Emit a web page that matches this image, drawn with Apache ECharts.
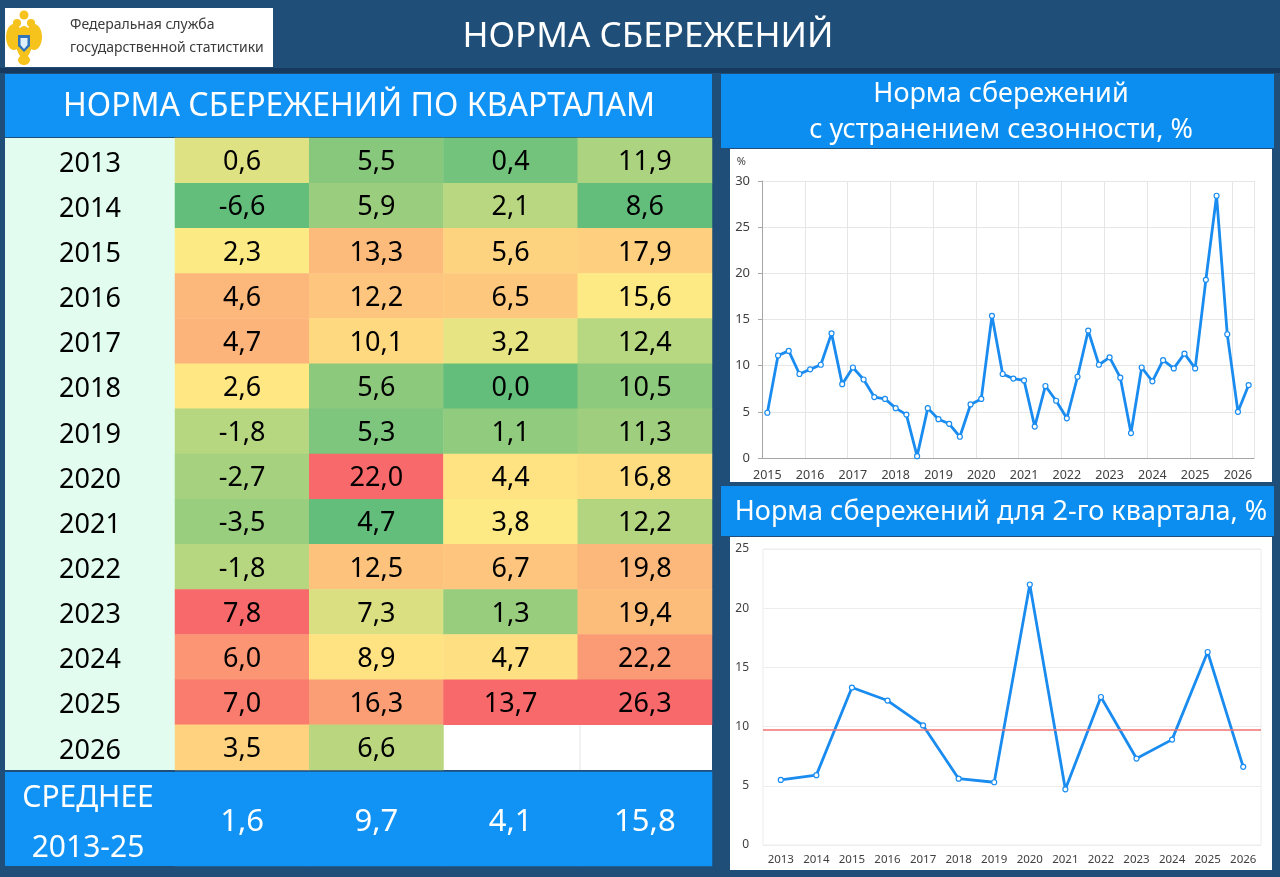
<!DOCTYPE html>
<html>
<head>
<meta charset="utf-8">
<script src="https://cdn.jsdelivr.net/npm/echarts@6/dist/echarts.min.js"></script>
<style>
  html, body { margin: 0; padding: 0; background: #1f4e79; }
  #main { width: 1280px; height: 877px; }
</style>
</head>
<body>
<div id="main"></div>
<script>
// table: savings rate by quarter
const years = ['2013', '2014', '2015', '2016', '2017', '2018', '2019', '2020', '2021', '2022', '2023', '2024', '2025', '2026'];
const quarters = ['I', 'II', 'III', 'IV'];
const q1 = [0.6, -6.6, 2.3, 4.6, 4.7, 2.6, -1.8, -2.7, -3.5, -1.8, 7.8, 6.0, 7.0, 3.5];
const q2 = [5.5, 5.9, 13.3, 12.2, 10.1, 5.6, 5.3, 22.0, 4.7, 12.5, 7.3, 8.9, 16.3, 6.6];
const q3 = [0.4, 2.1, 5.6, 6.5, 3.2, 0.0, 1.1, 4.4, 3.8, 6.7, 1.3, 4.7, 13.7, null];
const q4 = [11.9, 8.6, 17.9, 15.6, 12.4, 10.5, 11.3, 16.8, 12.2, 19.8, 19.4, 22.2, 26.3, null];
const avgLabel = ['СРЕДНЕЕ\n2013-25'];
const avg = [1.6, 9.7, 4.1, 15.8];

// seasonally adjusted, quarterly 2015 Q1 .. 2026 Q2
const saYears = ['2015', '2016', '2017', '2018', '2019', '2020', '2021', '2022', '2023', '2024', '2025', '2026'];
const saValues = [
  4.9, 11.1, 11.6, 9.1,
  9.6, 10.1, 13.5, 8.0,
  9.8, 8.5, 6.6, 6.4,
  5.4, 4.7, 0.2, 5.4,
  4.2, 3.7, 2.3, 5.8,
  6.4, 15.4, 9.1, 8.6,
  8.4, 3.4, 7.8, 6.2,
  4.3, 8.8, 13.8, 10.1,
  10.9, 8.7, 2.7, 9.8,
  8.3, 10.6, 9.7, 11.3,
  9.7, 19.3, 28.4, 13.4,
  5.0, 7.9
];

const FONT = 'Noto Sans';
const BLUE_LINE = '#1a8cf0';
const GREEN = [0x63, 0xBE, 0x7B], YELLOW = [0xFF, 0xEB, 0x84], RED = [0xF8, 0x69, 0x6B];

// category labels for the quarterly axis
const saCats = [];
saYears.forEach(y => quarters.forEach(q => saCats.push(y + ' ' + q)));
saCats.length = saValues.length;

function fmt(v) { return v.toFixed(1).replace('.', ','); }

function mix(a, b, t) {
  const c = a.map((x, i) => Math.round(x + (b[i] - x) * t));
  return 'rgb(' + c.join(',') + ')';
}

// Excel-like 3 colour scale: min green, median yellow, max red
function colourScale(vals) {
  const s = vals.filter(v => v !== null).sort((a, b) => a - b);
  const n = s.length;
  const med = n % 2 ? s[(n - 1) / 2] : (s[n / 2 - 1] + s[n / 2]) / 2;
  const min = s[0], max = s[n - 1];
  const stops = [];
  for (let k = 0; k <= 60; k++) {
    const v = min + (max - min) * k / 60;
    stops.push(v <= med ? mix(GREEN, YELLOW, (v - min) / (med - min)) : mix(YELLOW, RED, (v - med) / (max - med)));
  }
  return { min, max, stops };
}

const columns = [q1, q2, q3, q4];

const heatSeries = columns.map((col, ci) => ({
  type: 'heatmap',
  xAxisIndex: 0,
  yAxisIndex: 0,
  data: col.map((v, ri) => [ci, ri, v]).filter(d => d[2] !== null),
  label: {
    show: true,
    fontFamily: FONT,
    fontSize: 27,
    color: '#000',
    offset: [0, 2],
    formatter: p => fmt(p.value[2])
  },
  itemStyle: { borderWidth: 0 },
  emphasis: { disabled: true }
}));

const visualMaps = columns.map((col, ci) => {
  const sc = colourScale(col);
  return {
    type: 'continuous',
    show: false,
    seriesIndex: ci,
    dimension: 2,
    min: sc.min,
    max: sc.max,
    inRange: { color: sc.stops }
  };
});

const avgSeries = {
  type: 'heatmap',
  xAxisIndex: 1,
  yAxisIndex: 1,
  data: avg.map((v, i) => [i, 0, v]),
  itemStyle: { color: '#1193f5' },
  label: { show: true, fontFamily: FONT, fontSize: 31, color: '#fff', offset: [0, 3], formatter: p => fmt(p.value[2]) },
  emphasis: { disabled: true }
};

const lineStyleCommon = {
  type: 'line',
  lineStyle: { color: BLUE_LINE, width: 2.8 },
  symbol: 'circle',
  symbolSize: 5,
  itemStyle: { color: '#fff', borderColor: BLUE_LINE, borderWidth: 1.2 },
  emphasis: { disabled: true }
};

const axisText = { fontFamily: FONT, fontSize: 12, color: '#404040' };

const chart = echarts.init(document.getElementById('main'));
chart.setOption({
  backgroundColor: '#1f4e79',
  animation: false,
  textStyle: { fontFamily: FONT },
  graphic: [
    // header strip
    { type: 'rect', z: -5, shape: { x: 0, y: 68, width: 1280, height: 5 }, style: { fill: '#17395d' } },
    // logo
    { type: 'rect', z: -5, shape: { x: 5, y: 8, width: 268, height: 59 }, style: { fill: '#ffffff' } },
    { type: 'group', z: -4, children: [
      { type: 'ellipse', shape: { cx: 14, cy: 37, rx: 8, ry: 13 }, style: { fill: '#f6c21c' } },
      { type: 'ellipse', shape: { cx: 34, cy: 37, rx: 8, ry: 13 }, style: { fill: '#f6c21c' } },
      { type: 'circle', shape: { cx: 17, cy: 23, r: 4 }, style: { fill: '#f6c21c' } },
      { type: 'circle', shape: { cx: 31, cy: 23, r: 4 }, style: { fill: '#f6c21c' } },
      { type: 'circle', shape: { cx: 24, cy: 15, r: 4.5 }, style: { fill: '#f6c21c' } },
      { type: 'ellipse', shape: { cx: 24, cy: 42, rx: 8, ry: 16 }, style: { fill: '#f6c21c' } },
      { type: 'ellipse', shape: { cx: 24, cy: 60, rx: 6, ry: 5 }, style: { fill: '#f6c21c' } },
      { type: 'polygon', shape: { points: [[18, 35], [30, 35], [30, 46], [24, 52], [18, 46]] }, style: { fill: '#2f73b8' } },
      { type: 'polygon', shape: { points: [[20.5, 38], [27.5, 38], [27.5, 45], [24, 49], [20.5, 45]] }, style: { fill: '#dfeefb' } }
    ] },
    { type: 'text', z: -4, style: { x: 70, y: 25, text: 'Федеральная служба', fill: '#3a3a3a', font: '14px "Noto Sans"', verticalAlign: 'middle' } },
    { type: 'text', z: -4, style: { x: 70, y: 48, text: 'государственной статистики', fill: '#3a3a3a', font: '14px "Noto Sans"', verticalAlign: 'middle' } },
    // main title
    { type: 'text', z: -4, style: { x: 648, y: 37, text: 'НОРМА СБЕРЕЖЕНИЙ', fill: '#ffffff', font: '35px "Noto Sans"', align: 'center', verticalAlign: 'middle' } },
    // left panel
    { type: 'rect', z: -5, shape: { x: 5, y: 74, width: 707, height: 63 }, style: { fill: '#1193f5' } },
    { type: 'text', z: -4, style: { x: 359, y: 107, text: 'НОРМА СБЕРЕЖЕНИЙ ПО КВАРТАЛАМ', fill: '#ffffff', font: '32px "Noto Sans"', align: 'center', verticalAlign: 'middle' } },
    { type: 'rect', z: -5, shape: { x: 5, y: 138, width: 170, height: 632 }, style: { fill: '#e2fcef' } },
    { type: 'rect', z: -5, shape: { x: 5, y: 772, width: 707, height: 94 }, style: { fill: '#1193f5' } },
    { type: 'line', z: 10, shape: { x1: 580, y1: 725, x2: 580, y2: 770 }, style: { stroke: '#e4e4e4', lineWidth: 1 } },
    // right top panel
    { type: 'rect', z: -5, shape: { x: 721, y: 74, width: 553, height: 74 }, style: { fill: '#0b8ef0' } },
    { type: 'text', z: -4, style: { x: 1001, y: 94, text: 'Норма сбережений', fill: '#ffffff', font: '27px "Noto Sans"', align: 'center', verticalAlign: 'middle' } },
    { type: 'text', z: -4, style: { x: 1001, y: 130, text: 'с устранением сезонности, %', fill: '#ffffff', font: '27px "Noto Sans"', align: 'center', verticalAlign: 'middle' } },
    { type: 'rect', z: -5, shape: { x: 730, y: 149, width: 542, height: 333 }, style: { fill: '#ffffff' } },
    // right bottom panel
    { type: 'rect', z: -5, shape: { x: 721, y: 486, width: 553, height: 50 }, style: { fill: '#0b8ef0' } },
    { type: 'text', z: -4, style: { x: 1001, y: 512, text: 'Норма сбережений для 2-го квартала, %', fill: '#ffffff', font: '27px "Noto Sans"', align: 'center', verticalAlign: 'middle' } },
    { type: 'rect', z: -5, shape: { x: 730, y: 537, width: 542, height: 333 }, style: { fill: '#ffffff' } }
  ],
  visualMap: visualMaps,
  grid: [
    { left: 175, top: 138, width: 537, height: 632, show: true, backgroundColor: '#ffffff', borderWidth: 0 },
    { left: 175, top: 772, width: 537, height: 94 },
    { left: 762, right: 26, top: 181, bottom: 419 },
    { left: 763, right: 19, top: 549, bottom: 32, show: true, borderColor: '#ececec', borderWidth: 1 }
  ],
  xAxis: [
    { type: 'category', gridIndex: 0, data: quarters, show: false },
    { type: 'category', gridIndex: 1, data: quarters, show: false },
    {
      type: 'category', gridIndex: 2, data: saCats, boundaryGap: true,
      axisLine: { lineStyle: { color: '#a6a6a6' } },
      axisTick: { show: false },
      axisLabel: Object.assign({ interval: 3, margin: 11, formatter: v => v.slice(0, 4) }, axisText, { fontSize: 12.5 }),
      splitLine: { show: true, interval: 3, lineStyle: { color: '#e6e6e6' } }
    },
    {
      type: 'category', gridIndex: 3, data: years, boundaryGap: true,
      axisLine: { show: false },
      axisTick: { show: false },
      axisLabel: Object.assign({ interval: 0, margin: 9 }, axisText, { fontSize: 11.5 })
    }
  ],
  yAxis: [
    {
      type: 'category', gridIndex: 0, data: years, inverse: true,
      axisLine: { show: false }, axisTick: { show: false },
      axisLabel: {
        align: 'center', margin: 85, formatter: v => '{y|' + v + '}',
        rich: { y: { fontFamily: FONT, fontSize: 27, color: '#000', padding: [7, 0, 0, 0] } }
      }
    },
    {
      type: 'category', gridIndex: 1, data: avgLabel,
      axisLine: { show: false }, axisTick: { show: false },
      axisLabel: {
        align: 'center', margin: 87,
        formatter: v => v.split('\n').map(s => '{a|' + s + '}').join('\n'),
        rich: { a: { fontFamily: FONT, fontSize: 30, lineHeight: 50, color: '#fff', padding: [8, 0, 0, 0] } }
      }
    },
    {
      type: 'value', gridIndex: 2, min: 0, max: 30, interval: 5,
      name: '%', nameLocation: 'end', nameGap: 14,
      nameTextStyle: { fontFamily: FONT, fontSize: 11, color: '#404040', align: 'right', padding: [0, 16, 0, 0] },
      axisLine: { show: true, lineStyle: { color: '#a6a6a6' } },
      axisTick: { show: true, length: 4, lineStyle: { color: '#a6a6a6' } },
      axisLabel: Object.assign({ margin: 12 }, axisText, { fontSize: 13 }),
      splitLine: { lineStyle: { color: '#e6e6e6' } }
    },
    {
      type: 'value', gridIndex: 3, min: 0, max: 25, interval: 5,
      axisLine: { show: false }, axisTick: { show: false },
      axisLabel: Object.assign({ margin: 14 }, axisText, { fontSize: 12 }),
      splitLine: { lineStyle: { color: '#ededed' } }
    }
  ],
  series: heatSeries.concat([
    avgSeries,
    Object.assign({}, lineStyleCommon, { xAxisIndex: 2, yAxisIndex: 2, data: saValues }),
    Object.assign({}, lineStyleCommon, {
      xAxisIndex: 3, yAxisIndex: 3, data: q2,
      markLine: {
        silent: true,
        symbol: 'none',
        label: { show: false },
        lineStyle: { color: '#f07070', width: 1.6, type: 'solid' },
        data: [{ yAxis: avg[1] }]
      }
    })
  ])
});
</script>
</body>
</html>
